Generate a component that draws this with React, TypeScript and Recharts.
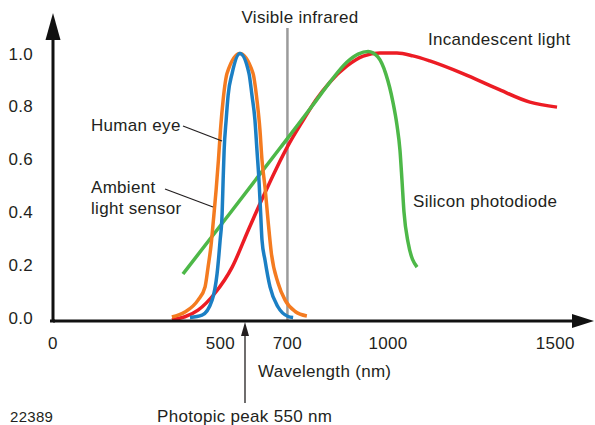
import React from 'react';
import { LineChart, Line, XAxis, YAxis, ReferenceLine } from 'recharts';

// wavelength (nm) / relative response
const eyeNm = [409, 445, 475, 490, 499, 505, 508, 511, 517, 523, 535, 558, 585, 594, 603, 609, 615, 620, 624, 633, 648, 672, 702, 717];
const eyeVal = [0, 0.009, 0.066, 0.167, 0.292, 0.394, 0.521, 0.634, 0.748, 0.843, 0.926, 1.0, 0.926, 0.843, 0.748, 0.634, 0.521, 0.396, 0.294, 0.218, 0.116, 0.04, 0.004, 0];

const alsNm = [355, 394, 433, 454, 463, 472, 479, 487, 494, 500, 508, 520, 558, 597, 609, 618, 624, 633, 642, 652, 672, 693, 723, 758];
const alsVal = [0.002, 0.021, 0.066, 0.116, 0.191, 0.275, 0.369, 0.483, 0.597, 0.71, 0.824, 0.926, 1.0, 0.926, 0.824, 0.71, 0.597, 0.494, 0.369, 0.244, 0.131, 0.066, 0.023, 0.006];

const lampNm = [355, 433, 484, 535, 582, 624, 666, 708, 744, 785, 827, 878, 926, 976, 1027, 1075, 1125, 1224, 1326, 1424, 1505];
const lampVal = [-0.008, 0.028, 0.093, 0.191, 0.328, 0.448, 0.562, 0.665, 0.741, 0.824, 0.892, 0.953, 0.99, 1.002, 1.002, 0.991, 0.972, 0.924, 0.867, 0.816, 0.797];

const siNm = [388, 529, 678, 776, 827, 878, 911, 941, 970, 994, 1015, 1027, 1036, 1042, 1048, 1060, 1087];
const siVal = [0.165, 0.396, 0.642, 0.805, 0.892, 0.968, 0.998, 1.008, 0.987, 0.922, 0.816, 0.729, 0.634, 0.521, 0.4, 0.286, 0.191];

const xTicks = [0, 500, 700, 1000, 1500];
const yTicks = [0, 0.2, 0.4, 0.6, 0.8, 1.0];
const visibleEdge = 700;

const toRows = (xs: number[], ys: number[]) => xs.map((x, i) => ({ x, y: ys[i] }));

const FONT = '"Liberation Sans", Arial, Helvetica, sans-serif';
const INK = '#231f20';
const tickStyle = { fill: INK, fontSize: 17, fontFamily: FONT, letterSpacing: 0.3 };

const Label = ({ x, y, children, anchor = 'start', size = 17 }: any) => (
  <text x={x} y={y} textAnchor={anchor} fontSize={size} fontFamily={FONT} fill={INK} letterSpacing={0.3}>
    {children}
  </text>
);

export default function App() {
  return (
    <div style={{ position: 'absolute', left: 0, top: 0, width: 595, height: 425, background: '#fff' }}>
      <LineChart width={595} height={425} margin={{ top: 39, right: 22.9, left: 0, bottom: 74 }}>
        <XAxis
          type="number"
          dataKey="x"
          domain={[0, 1550]}
          ticks={xTicks}
          allowDataOverflow
          axisLine={{ stroke: '#111', strokeWidth: 3 }}
          tickLine={false}
          tickSize={0}
          tickMargin={16}
          height={30}
          tick={tickStyle}
        />
        <YAxis
          type="number"
          dataKey="y"
          domain={[-0.013, 1.055]}
          ticks={yTicks}
          allowDataOverflow
          axisLine={{ stroke: '#111', strokeWidth: 3 }}
          tickLine={false}
          tickSize={0}
          tickMargin={20}
          width={53}
          tick={tickStyle}
          tickFormatter={(v: number) => v.toFixed(1)}
        />
        <ReferenceLine
          segment={[{ x: visibleEdge, y: -0.013 }, { x: visibleEdge, y: 1.097 }]}
          stroke="#9b9b9b"
          strokeWidth={2.5}
          ifOverflow="visible"
        />
        <Line data={toRows(lampNm, lampVal)} dataKey="y" type="monotone" stroke="#ec1c24" strokeWidth={3.5} dot={false} activeDot={false} isAnimationActive={false} />
        <Line data={toRows(siNm, siVal)} dataKey="y" type="monotone" stroke="#4db848" strokeWidth={3.5} dot={false} activeDot={false} isAnimationActive={false} />
        <Line data={toRows(alsNm, alsVal)} dataKey="y" type="monotone" stroke="#f47b20" strokeWidth={3.5} dot={false} activeDot={false} isAnimationActive={false} />
        <Line data={toRows(eyeNm, eyeVal)} dataKey="y" type="monotone" stroke="#1b7fc4" strokeWidth={3.5} dot={false} activeDot={false} isAnimationActive={false} />
      </LineChart>

      {/* arrowheads, leader lines and captions */}
      <svg width={595} height={425} style={{ position: 'absolute', left: 0, top: 0, pointerEvents: 'none' }}>
        <polygon points="53,13 45.5,40 60.5,40" fill="#111" />
        <polygon points="594,321 572,314 572,328" fill="#111" />
        <line x1={50} y1={321} x2={55} y2={321} stroke="#111" strokeWidth={3} />

        <line x1={183} y1={126} x2={222} y2={141} stroke={INK} strokeWidth={1.3} />
        <line x1={165} y1={189} x2={213} y2={207} stroke={INK} strokeWidth={1.3} />

        <line x1={245} y1={334} x2={245} y2={403} stroke={INK} strokeWidth={1.3} />
        <polygon points="245,322 241,336 249,336" fill={INK} />

        <Label x={300} y={23} anchor="middle">Visible infrared</Label>
        <Label x={428} y={45}>Incandescent light</Label>
        <Label x={413} y={207}>Silicon photodiode</Label>
        <Label x={91} y={131}>Human eye</Label>
        <Label x={91} y={193}>Ambient</Label>
        <Label x={91} y={214}>light sensor</Label>
        <Label x={258} y={377}>Wavelength (nm)</Label>
        <Label x={10} y={422} size={15}>22389</Label>
        <Label x={157} y={422}>Photopic peak 550 nm</Label>
      </svg>
    </div>
  );
}
